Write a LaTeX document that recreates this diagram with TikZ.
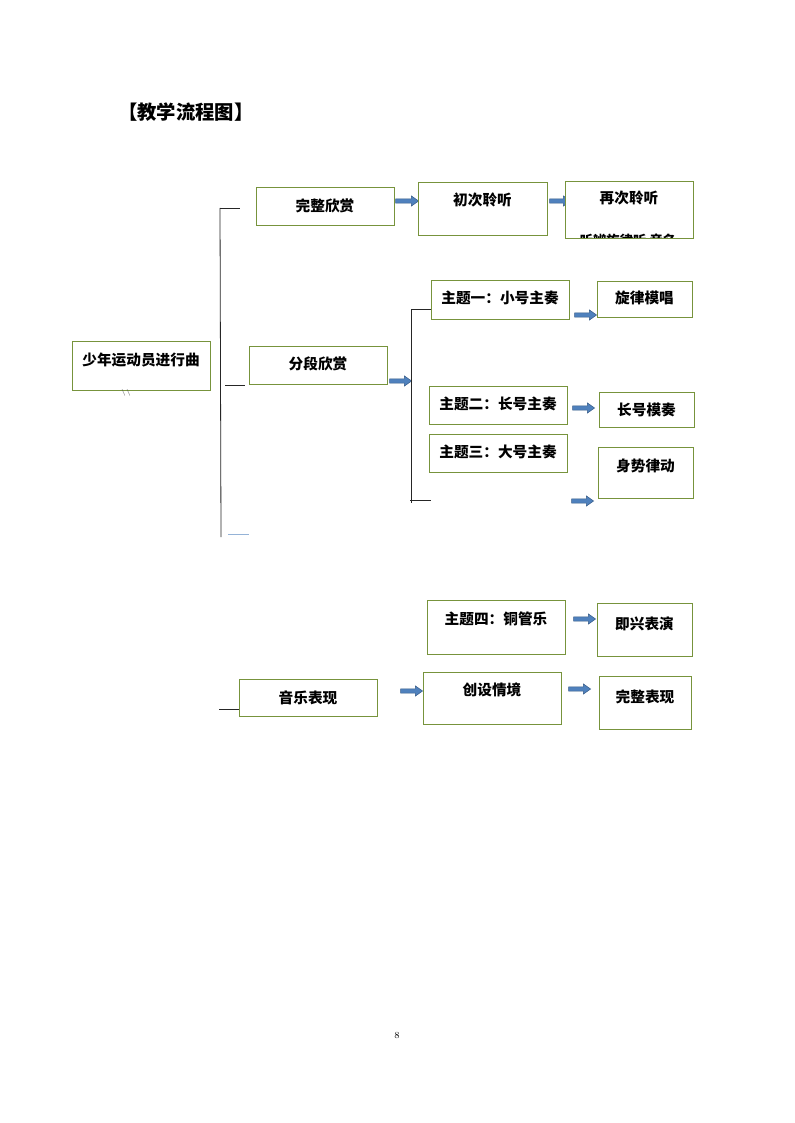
\documentclass[tikz,border=0pt]{standalone}
\usepackage{fontspec}
\newfontfamily\cjk{Noto Sans CJK SC}
\usetikzlibrary{shapes.arrows}
\definecolor{boxgreen}{RGB}{119,147,60}
\definecolor{arrfill}{RGB}{79,129,189}
\definecolor{arrdraw}{RGB}{56,93,138}
\definecolor{bluegrey}{RGB}{149,179,215}
\newcommand\mybox[7]{%
  \node[box, anchor=north west, minimum width={(#4-#2)*0.75pt}, minimum height={(#5-#3)*0.75pt}] (#1) at (#2,#3) {};
  \node[txt] (#1t) at ({(#2+#4)/2},#7) {#6};
}
\newcommand\blockarrow[4]{%
  \node[barr, minimum height={(#3-#2)*0.75pt}] (#1) at ({(#2+#3)/2},#4) {};
}
\begin{document}
\begin{tikzpicture}[x=0.75pt,y=-0.75pt,
  box/.style={draw=boxgreen, line width=0.8pt, rectangle, inner sep=0pt, fill=white},
  txt/.style={font=\cjk\bfseries\fontsize{11}{13}\selectfont, inner sep=0pt},
  barr/.style={single arrow, draw=arrdraw, fill=arrfill, line width=0.4pt, inner sep=1.4pt,
    minimum width=7.5pt, single arrow head extend=2pt, single arrow tip angle=70},
  bline/.style={line width=0.6pt, draw=black!85}]
\fill[white] (0,0) rectangle (794,1123);
\useasboundingbox (0,0) rectangle (794,1123);

% title
\node[font=\cjk\bfseries\fontsize{14.5}{16}\selectfont, anchor=west, inner sep=0pt] (title) at (118,112) {【教学流程图】};

% root
\mybox{root}{72}{341}{210}{390}{少年运动员进行曲}{360}
\node[font=\fontsize{5}{6}\selectfont, inner sep=0pt, text=black!70] (marks) at (126,393) {\textbackslash\textbackslash};

% first bracket
\coordinate (b1t) at (220,208);
\coordinate (b1b) at (221,537);
\coordinate (b1th) at (240,208);
\coordinate (b1m) at (220.5,385);
\coordinate (b1mh) at (245,385);
\coordinate (b1bh0) at (228,534);
\coordinate (b1bh) at (249,534);
\draw[bline] (b1t) -- (b1b);
\draw[bline] (b1t) -- (b1th);
\draw[bline] (225,385) -- (b1mh);
\draw[bluegrey, line width=0.6pt] (b1bh0) -- (b1bh);

% row 1
\mybox{wz}{256}{187}{394}{225}{完整欣赏}{206}
\blockarrow{a1}{394}{417}{201}
\mybox{cc}{418}{182}{547}{235}{初次聆听}{200}
\blockarrow{a2}{548}{569}{201}
\mybox{zc}{565}{181}{693}{238}{再次聆听}{198}
\begin{scope}
  \clip (566,182) rectangle (692,237.5);
  \node[txt, font=\cjk\bfseries\fontsize{10}{12}\selectfont] (zcx) at (628,240) {听辨旋律听 音名};
\end{scope}

% row 2
\mybox{fd}{249}{346}{387}{384}{分段欣赏}{364}
\blockarrow{a3}{388}{410}{381}
\coordinate (b2t) at (411,309);
\coordinate (b2b) at (411,503);
\coordinate (b2th) at (432,309);
\coordinate (b2bh) at (431,500);
\draw[bline] (b2t) -- (b2b);
\draw[bline] (b2t) -- (b2th);
\draw[bline] (410,500) -- (b2bh);

\mybox{t1}{431}{280}{569}{319}{主题一：小号主奏}{298}
\blockarrow{a4}{573}{595}{315}
\mybox{xl}{597}{281}{692}{317}{旋律模唱}{298}

\mybox{t2}{429}{386}{567}{424}{主题二：长号主奏}{404}
\blockarrow{a5}{571}{593}{408}
\mybox{ch}{599}{392}{694}{427}{长号模奏}{410}

\mybox{t3}{429}{434}{567}{472}{主题三：大号主奏}{452}
\mybox{ss}{598}{447}{693}{498}{身势律动}{466}
\blockarrow{a6}{570}{592}{501}

% theme four
\mybox{t4}{427}{600}{565}{654}{主题四：铜管乐}{619}
\blockarrow{a7}{572}{594}{619}
\mybox{jx}{597}{603}{692}{656}{即兴表演}{624}

% music performance
\coordinate (mpl) at (219,709);
\mybox{yy}{239}{679}{377}{716}{音乐表现}{698}
\draw[bline] (mpl) -- (yy.west |- mpl);
\blockarrow{a8}{399}{421}{691}
\mybox{cs}{423}{672}{561}{724}{创设情境}{690}
\blockarrow{a9}{567}{589}{689}
\mybox{wb}{599}{676}{691}{729}{完整表现}{697}

% page number
\node[font=\fontsize{7}{8}\selectfont, inner sep=0pt] (pg) at (397,1035) {8};
\end{tikzpicture}
\end{document}
